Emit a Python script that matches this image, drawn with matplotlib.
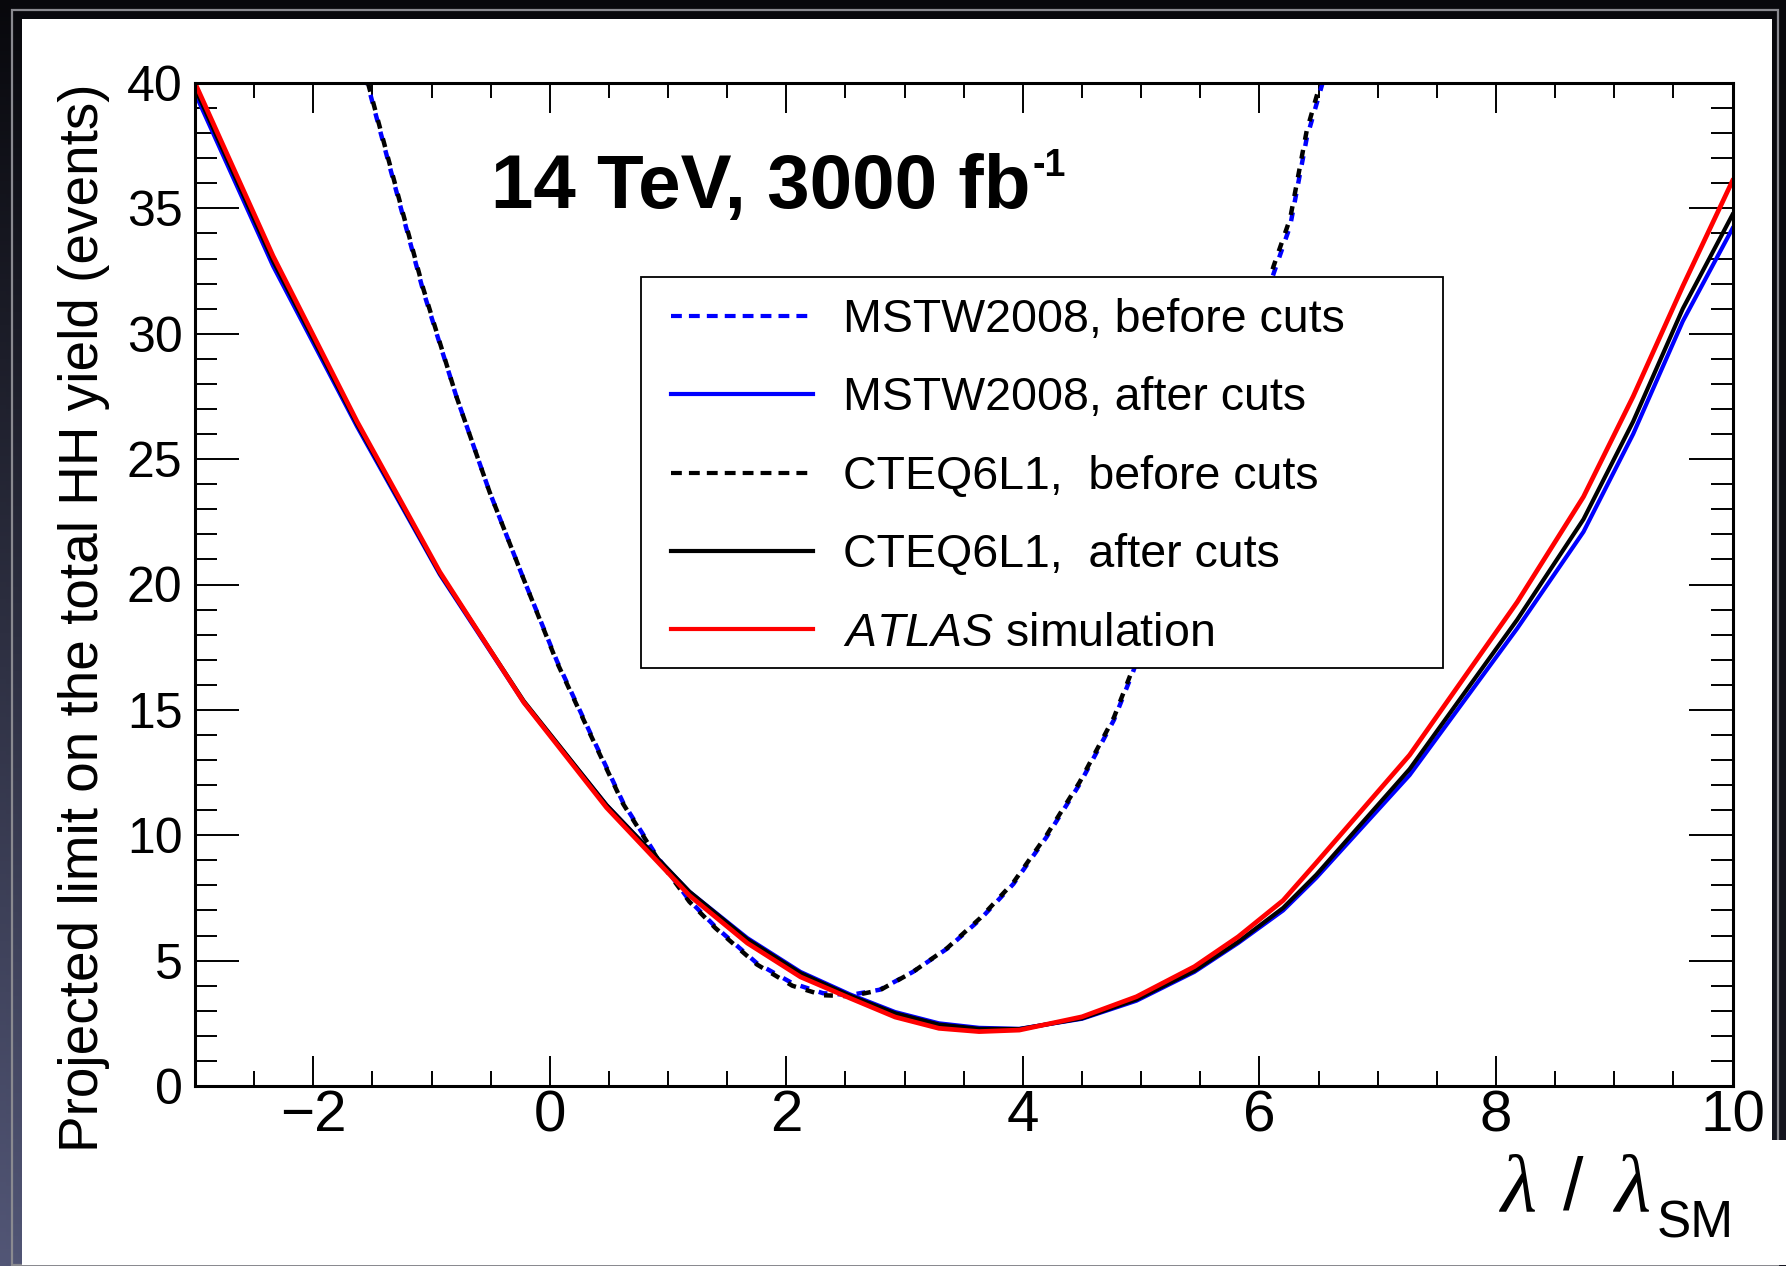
import numpy as np
import matplotlib.pyplot as plt
from matplotlib.patches import Rectangle
from matplotlib.lines import Line2D
from matplotlib.ticker import MultipleLocator

plt.rcParams['font.family'] = ['Liberation Sans', 'DejaVu Sans']
plt.rcParams['mathtext.fontset'] = 'custom'
plt.rcParams['mathtext.rm'] = 'Liberation Sans'
plt.rcParams['mathtext.it'] = 'Liberation Sans:italic'

# lambda / lambda_SM points
lam_after = [-3.0, -2.34, -1.63, -0.93, -0.22, 0.48, 1.18, 1.67, 2.12, 2.54, 2.92,
             3.29, 3.63, 3.97, 4.50, 4.96, 5.45, 5.82, 6.20, 6.48, 7.27, 8.18,
             8.74, 9.16, 9.58, 10.0]
mstw_after = [39.6, 32.7, 26.3, 20.4, 15.3, 11.2, 7.75, 5.9, 4.55, 3.65, 2.95,
              2.5, 2.32, 2.28, 2.68, 3.4, 4.55, 5.7, 7.0, 8.3, 12.4, 18.25,
              22.1, 26.0, 30.5, 34.2]
cteq_after = [39.8, 32.9, 26.4, 20.45, 15.35, 11.2, 7.75, 5.85, 4.5, 3.6, 2.9,
              2.45, 2.28, 2.27, 2.7, 3.45, 4.6, 5.75, 7.1, 8.42, 12.64, 18.6,
              22.6, 26.5, 31.0, 34.75]
atlas_sim = [40.0, 33.1, 26.5, 20.5, 15.3, 11.1, 7.6, 5.7, 4.35, 3.5, 2.75,
             2.3, 2.17, 2.23, 2.76, 3.56, 4.76, 5.95, 7.4, 8.9, 13.2, 19.3,
             23.5, 27.5, 31.9, 36.1]

lam_before = [-1.60, -1.35, -1.07, -0.79, -0.51, -0.22, 0.06, 0.34, 0.62, 0.90,
              1.18, 1.40, 1.75, 2.05, 2.31, 2.54, 2.79, 3.07, 3.36, 3.64, 3.92,
              4.20, 4.48, 4.77, 4.93, 5.50, 6.00, 6.12, 6.26, 6.40, 6.54, 6.60]
mstw_before = [41.0, 36.6, 31.7, 27.5, 23.7, 20.2, 16.95, 14.1, 11.3, 9.2,
               7.4, 6.35, 4.9, 4.1, 3.7, 3.63, 3.84, 4.55, 5.48, 6.65, 8.06,
               9.93, 12.04, 14.6, 16.5, 24.0, 30.6, 32.4, 34.3, 37.8, 40.1, 41.3]
cteq_before = [41.1, 36.7, 31.8, 27.5, 23.7, 20.2, 16.9, 14.05, 11.25, 9.15,
               7.35, 6.3, 4.85, 4.0, 3.62, 3.58, 3.82, 4.55, 5.5, 6.7, 8.12,
               10.0, 12.12, 14.7, 16.65, 24.2, 30.9, 32.7, 34.6, 38.1, 40.4, 41.6]

legend_labels = ['MSTW2008, before cuts', 'MSTW2008, after cuts',
                 'CTEQ6L1,  before cuts', 'CTEQ6L1,  after cuts',
                 r'$\mathit{ATLAS}$ simulation']

W, H = 1786, 1266
fig = plt.figure(figsize=(W / 100, H / 100), dpi=100)
fig.patch.set_facecolor('#08080c')

# dark slide backdrop with a white panel
bg = fig.add_axes([0, 0, 1, 1], zorder=-5)
yy, xx = np.mgrid[0:1:300j, 0:1:300j]
t = np.clip(yy * (1 - 0.8 * xx), 0, 1)[..., None]
dark = np.array([8, 8, 12]) / 255
light = np.array([82, 86, 118]) / 255
bg.imshow(dark + t * (light - dark), extent=[0, W, H, 0], aspect='auto')
bg.add_patch(Rectangle((12, 10), 1766, 1255, fc='none', ec='#8a8a90', lw=1.6))
bg.add_patch(Rectangle((22, 19), 1750, 1246, fc='white', ec='none'))
bg.add_patch(Rectangle((1760, 1140), 26, 125, fc='white', ec='none'))
bg.set_xlim(0, W)
bg.set_ylim(H, 0)
bg.axis('off')

ax = fig.add_axes([195 / W, 1 - 1086 / H, 1537.5 / W, 1003 / H])
ax.set_facecolor('white')

dash = (2.0, 2.3)
ax.plot(lam_before, mstw_before, color='#0000ff', lw=3.2, ls=(0, dash))
ax.plot(lam_after, mstw_after, color='#0000ff', lw=3.0)
ax.plot(lam_before, cteq_before, color='black', lw=3.2, ls=(2.15, dash))
ax.plot(lam_after, cteq_after, color='black', lw=3.0)
ax.plot(lam_after, atlas_sim, color='#ff0000', lw=3.4)

ax.set_xlim(-3, 10)
ax.set_ylim(0, 40)
ax.xaxis.set_major_locator(MultipleLocator(2))
ax.xaxis.set_minor_locator(MultipleLocator(0.5))
ax.yaxis.set_major_locator(MultipleLocator(5))
ax.yaxis.set_minor_locator(MultipleLocator(1))
ax.tick_params(axis='x', which='major', direction='in', length=21.6, width=1.4,
               top=True, labelsize=42, pad=2.5)
ax.tick_params(axis='x', which='minor', direction='in', length=10.8, width=1.4, top=True)
ax.tick_params(axis='y', which='major', direction='in', length=32, width=1.4,
               right=True, labelsize=36, pad=9)
ax.tick_params(axis='y', which='minor', direction='in', length=16, width=1.4, right=True)
for s in ax.spines.values():
    s.set_linewidth(2.2)

ax.set_ylabel('Projected limit on the total HH yield (events)', fontsize=39.5, loc='top')
ax.yaxis.set_label_coords(-0.0553, 1.0)

# x title: lambda / lambda_SM, pieces placed in figure pixels
def fx(px):
    return px / W

def fy(py):
    return 1 - py / H

fig.text(fx(1500), fy(1211), 'λ', family='Liberation Serif', style='italic',
         fontsize=60, va='baseline', ha='left')
fig.text(fx(1563), fy(1209), '/', fontsize=53, va='baseline', ha='left')
fig.text(fx(1614), fy(1211), 'λ', family='Liberation Serif', style='italic',
         fontsize=60, va='baseline', ha='left')
fig.text(fx(1734), fy(1238), 'SM', fontsize=37, va='baseline', ha='right')

title = ax.text(-0.5, 35.0, '14 TeV, 3000 fb', fontsize=55, fontweight='bold', va='baseline')
ax.annotate('-1', xy=(1, 1), xycoords=title, xytext=(1.5, 4), textcoords='offset points',
            fontsize=27, fontweight='bold', ha='left', va='top')

# legend box
ax.add_patch(Rectangle((641 / W, 1 - 668 / H), (1443 - 641) / W, (668 - 276.7) / H,
                       transform=fig.transFigure, fc='white', ec='black', lw=1.3,
                       zorder=4, clip_on=False))
leg_dash = (2.6, 1.7)
handles = [Line2D([], [], color='#0000ff', lw=3.0, ls=(0, leg_dash)),
           Line2D([], [], color='#0000ff', lw=3.0),
           Line2D([], [], color='black', lw=3.0, ls=(0, leg_dash)),
           Line2D([], [], color='black', lw=3.0),
           Line2D([], [], color='#ff0000', lw=3.0)]
leg = ax.legend(handles, legend_labels, loc='upper left',
                bbox_to_anchor=(671 / W, 1 - 298 / H), bbox_transform=fig.transFigure,
                frameon=False, fontsize=33.5, handlelength=3.06, handletextpad=0.64,
                labelspacing=0.74, borderpad=0, borderaxespad=0)
leg.set_zorder(5)

fig.savefig('out.png', dpi=100, facecolor=fig.get_facecolor())
